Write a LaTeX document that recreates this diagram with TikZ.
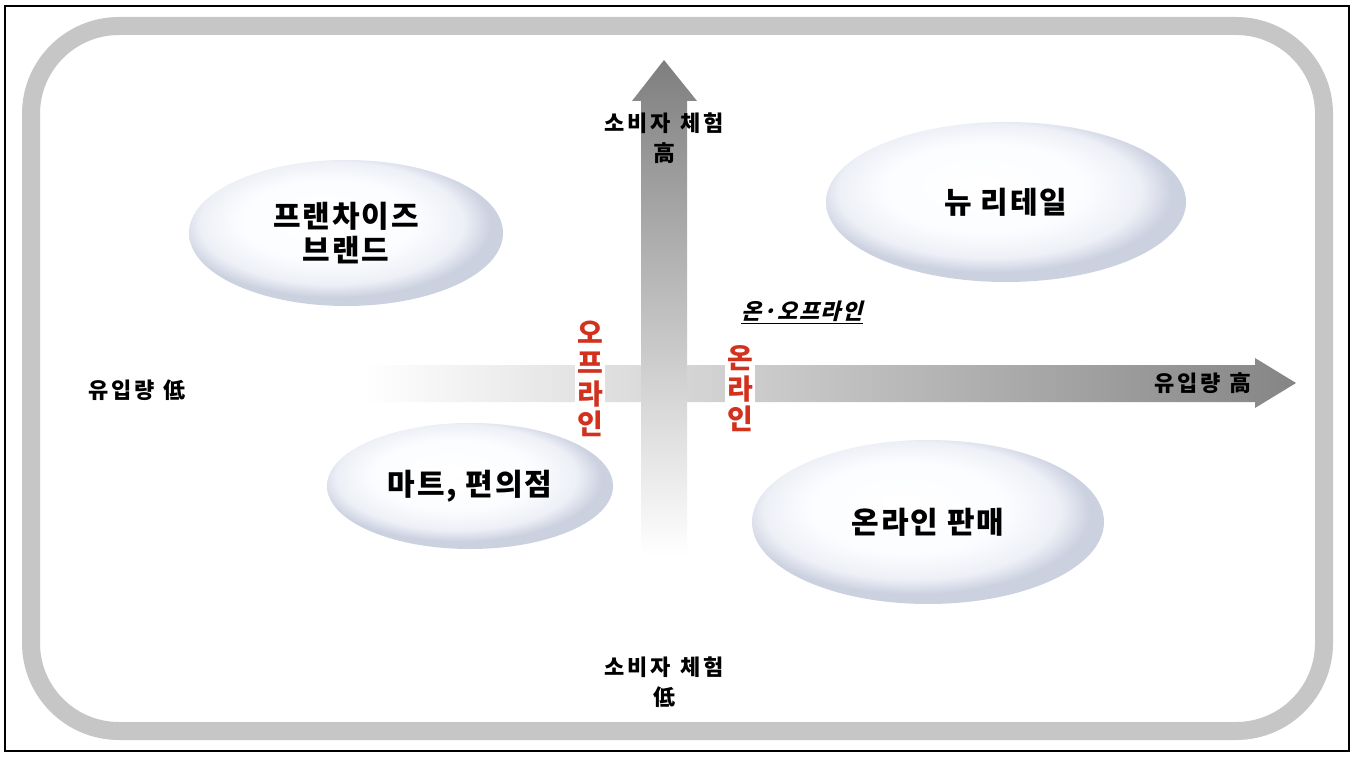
\documentclass[tikz,border=0pt]{standalone}
\usepackage{fontspec}
\newfontfamily\kr[LetterSpace=6]{Noto Sans CJK KR}
\newfontfamily\krsp[LetterSpace=14]{Noto Sans CJK KR}
\newfontfamily\krsl[LetterSpace=6,FakeSlant=0.25]{Noto Sans CJK KR}
\definecolor{framegray}{HTML}{C6C6C6}
\definecolor{arrowgray}{HTML}{858585}
\definecolor{redtxt}{HTML}{D2311E}
\pgfdeclareradialshading{ellshade}{\pgfpoint{-4bp}{6bp}}{rgb(0bp)=(1,1,1); rgb(14bp)=(0.985,0.99,1); rgb(21bp)=(0.93,0.94,0.965); rgb(25bp)=(0.80,0.82,0.88); rgb(50bp)=(0.80,0.82,0.88)}
\newcommand{\gap}{\hspace{9pt}}
\begin{document}
\begin{tikzpicture}[x=1pt,y=-1pt,
  ell/.style={ellipse, shading=ellshade, font=\kr\bfseries\fontsize{30}{34}\selectfont, align=center, inner sep=0pt},
  axlab/.style={font=\krsp\bfseries\fontsize{22}{30}\selectfont, align=center, inner sep=1pt},
  redlab/.style={font=\kr\bfseries\fontsize{28}{30.5}\selectfont, text=redtxt, align=center, fill=white, inner sep=2pt}]
\usetikzlibrary{shapes.geometric}
\useasboundingbox (0,0) rectangle (1355,757);
\fill[white] (0,0) rectangle (1355,757);
% outer frame
\draw[line width=2pt] (5,6) rectangle (1349,751);
% gray rounded frame
\draw[framegray, line width=18pt, rounded corners=88pt] (31,26) rectangle (1324,731);
% horizontal arrow
\shade[left color=white, right color=arrowgray]
  (365,365) -- (1255,365) -- (1255,358) -- (1296,383) -- (1255,408) -- (1255,402) -- (365,402) -- cycle;
% vertical arrow
\shade[top color=arrowgray!95!black, bottom color=white]
  (641,555) -- (641,101) -- (632,101) -- (664,60) -- (697,101) -- (687,101) -- (687,555) -- cycle;
% ellipses
\node[ell, minimum width=314pt, minimum height=146pt] (fr) at (346,233) {프랜차이즈\\브랜드};
\node[ell, minimum width=360pt, minimum height=160pt] (nr) at (1006,202) {뉴 리테일};
\node[ell, minimum width=286pt, minimum height=126pt] (mt) at (470,486) {마트, 편의점};
\node[ell, minimum width=352pt, minimum height=164pt] (ol) at (928,522) {온라인 판매};
% axis labels
\node[axlab] (tp) at (664,138) {소비자\gap 체험\\高};
\node[axlab] (bt) at (664,682) {소비자\gap 체험\\低};
\node[axlab] (lf) at (137,390) {유입량\gap 低};
\node[axlab] (rt) at (1203,383) {유입량\gap 高};
% red labels
\node[redlab] (off) at (590,379) {오\\프\\라\\인};
\node[redlab] (on) at (740,389) {온\\라\\인};
\node[font=\krsl\bfseries\fontsize{22}{26}\selectfont, inner sep=1pt] (onoff) at (802,312) {\underline{온·오프라인}};
\end{tikzpicture}
\end{document}
